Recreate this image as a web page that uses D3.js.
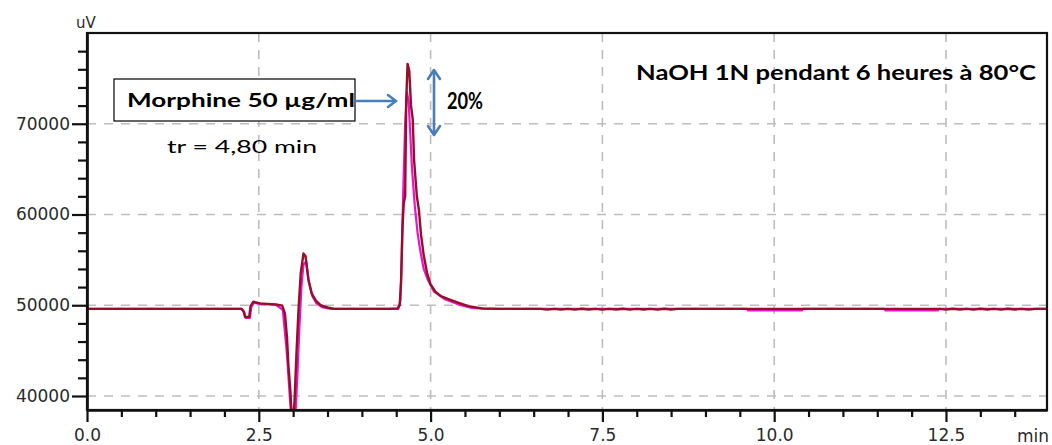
<!DOCTYPE html>
<html><head><meta charset="utf-8">
<script src="https://cdn.jsdelivr.net/npm/d3@7"></script>
<style>
html,body{margin:0;padding:0;background:#fff;overflow:hidden}
</style></head>
<body><svg id="chart" width="1052" height="445"></svg>
<script>
// ---- data (time in min, signal in uV) ----
const traceRedT = [0, 2.25, 2.28, 2.30, 2.36, 2.38, 2.42, 2.46, 2.52, 2.62, 2.75, 2.84, 2.88, 2.91, 2.93, 2.96, 2.99, 3.02, 3.05, 3.08, 3.11, 3.15, 3.18, 3.22, 3.27, 3.33, 3.40, 3.50, 3.60,
  4.40, 4.52, 4.55, 4.57, 4.59, 4.61, 4.63, 4.645, 4.665, 4.69, 4.715, 4.74, 4.76, 4.80, 4.83, 4.86, 4.90, 4.95, 5.00, 5.07, 5.15, 5.25, 5.40, 5.55, 5.75, 6.00,
  6.60, 6.70, 6.80, 6.90, 7.00, 7.10, 7.20, 7.30, 7.40, 7.50, 7.60, 7.70, 7.80, 7.90, 8.00, 8.10, 8.20, 8.30, 8.40, 8.50, 8.60, 8.70,
  9.60, 11.60, 12.40, 12.50, 12.60, 12.70, 12.80, 12.90, 13.00, 13.10, 13.20, 13.30, 13.40, 13.50, 13.60, 13.70, 13.80, 13.97];
const traceRedV = [49600, 49600, 49300, 48700, 48700, 49900, 50400, 50300, 50200, 50150, 50100, 49950, 49100, 46500, 43500, 40500, 36000, 39500, 45000, 49800, 53500, 55700, 55400, 52900, 51300, 50500, 50000, 49750, 49600,
  49600, 49650, 50000, 52500, 58500, 61300, 62000, 72500, 76600, 75800, 72000, 70500, 66000, 62000, 60500, 57800, 55500, 53500, 52300, 51500, 51000, 50700, 50300, 49900, 49650, 49600,
  49600, 49520, 49600, 49530, 49600, 49520, 49610, 49530, 49600, 49520, 49600, 49530, 49610, 49520, 49600, 49530, 49600, 49520, 49610, 49530, 49600, 49600,
  49600, 49600, 49600, 49520, 49610, 49530, 49600, 49520, 49610, 49530, 49600, 49520, 49610, 49530, 49600, 49520, 49600, 49600];
const traceMagT = [0, 2.25, 2.29, 2.31, 2.37, 2.39, 2.43, 2.52, 2.75, 2.85, 2.88, 2.90, 2.92, 2.95, 2.99, 3.03, 3.06, 3.09, 3.12, 3.15, 3.19, 3.23, 3.28, 3.34, 3.42, 3.55,
  4.45, 4.53, 4.56, 4.58, 4.60, 4.63, 4.655, 4.68, 4.70, 4.73, 4.77, 4.81, 4.85, 4.90, 4.96, 5.05, 5.20, 5.40, 5.60, 5.80,
  9.60, 9.62, 10.40, 10.42, 11.60, 11.62, 12.38, 12.40, 13.97];
const traceMagV = [49600, 49600, 49200, 48600, 48600, 49800, 50300, 50150, 50050, 49500, 47000, 45500, 43500, 40000, 36000, 37500, 42000, 47500, 52000, 54500, 54800, 52500, 51000, 50200, 49800, 49600,
  49600, 49600, 50500, 55000, 62000, 70000, 73500, 72500, 69500, 65000, 61000, 58000, 56000, 54000, 52800, 51500, 50700, 50100, 49700, 49600,
  49600, 49420, 49420, 49600, 49600, 49420, 49420, 49600, 49600];
const yMajorTicks = [40000, 50000, 60000, 70000];
const yMinorTicks = [42000, 44000, 46000, 48000, 52000, 54000, 56000, 58000, 62000, 64000, 66000, 68000, 72000, 74000, 76000, 78000];
const xMajorTicks = [0, 2.5, 5, 7.5, 10, 12.5];
const xMinorTicks = [0.5, 1, 1.5, 2, 3, 3.5, 4, 4.5, 5.5, 6, 6.5, 7, 8, 8.5, 9, 9.5, 10.5, 11, 11.5, 12, 13, 13.5];
const xDomain = [0, 13.97];
const yDomain = [38456, 80000];
const yUnit = "uV";
const xUnit = "min";
const boxLabel = "Morphine 50 µg/ml";
const trLabel = "tr = 4,80 min";
const pctLabel = "20%";
const condLabel = "NaOH 1N pendant 6 heures à 80°C";

// ---- layout ----
const svg = d3.select("#chart");
const L = 87, R = 1047, T = 33, B = 410;
const x = d3.scaleLinear().domain(xDomain).range([L, R]);
const y = d3.scaleLinear().domain(yDomain).range([B, T]);
const tickFont = "'DejaVu Sans', sans-serif";

svg.append("defs").append("clipPath").attr("id", "plotclip")
  .append("rect").attr("x", L).attr("y", T).attr("width", R - L).attr("height", B - T);

// grid
const grid = svg.append("g");
grid.selectAll("line.h").data(yMajorTicks).join("line")
  .attr("x1", L).attr("x2", R).attr("y1", d => y(d)).attr("y2", d => y(d))
  .attr("stroke", "#bdbdbd").attr("stroke-width", 1.6).attr("stroke-dasharray", "9,8");
grid.selectAll("line.v").data(xMajorTicks.filter(d => d > 0)).join("line")
  .attr("y1", T).attr("y2", B).attr("x1", d => x(d)).attr("x2", d => x(d))
  .attr("stroke", "#bdbdbd").attr("stroke-width", 1.6).attr("stroke-dasharray", "9,8");

// traces
const line = d3.line().x(d => x(d[0])).y(d => y(d[1]));
const plot = svg.append("g").attr("clip-path", "url(#plotclip)");
plot.append("path").datum(d3.zip(traceMagT, traceMagV)).attr("d", line)
  .attr("fill", "none").attr("stroke", "#ee12c8").attr("stroke-width", 2.2).attr("stroke-linejoin", "round");
plot.append("path").datum(d3.zip(traceRedT, traceRedV)).attr("d", line)
  .attr("fill", "none").attr("stroke", "#960f2a").attr("stroke-width", 2.4).attr("stroke-linejoin", "round");

// frame
svg.append("rect").attr("x", L).attr("y", T).attr("width", R - L).attr("height", B - T)
  .attr("fill", "none").attr("stroke", "#111").attr("stroke-width", 2.2);

// axes
function styleAxis(g) {
  g.select(".domain").attr("stroke", "#111").attr("stroke-width", 2.2);
  g.selectAll(".tick line").attr("stroke", "#111").attr("stroke-width", 2.2);
  g.selectAll("text").attr("font-family", tickFont).attr("font-size", 17).attr("fill", "#2a2a2a");
}
const yAx = svg.append("g").attr("transform", `translate(${L},0)`)
  .call(d3.axisLeft(y).tickValues(yMajorTicks).tickSize(15).tickSizeOuter(0).tickPadding(2).tickFormat(d3.format("d")));
styleAxis(yAx);
const yAxMin = svg.append("g").attr("transform", `translate(${L},0)`)
  .call(d3.axisLeft(y).tickValues(yMinorTicks).tickSize(9).tickSizeOuter(0).tickFormat(""));
styleAxis(yAxMin);
const xAx = svg.append("g").attr("transform", `translate(0,${B})`)
  .call(d3.axisBottom(x).tickValues(xMajorTicks).tickSize(12).tickSizeOuter(0).tickPadding(7).tickFormat(d3.format(".1f")));
styleAxis(xAx);
const xAxMin = svg.append("g").attr("transform", `translate(0,${B})`)
  .call(d3.axisBottom(x).tickValues(xMinorTicks).tickSize(7).tickSizeOuter(0).tickFormat(""));
styleAxis(xAxMin);

svg.append("text").attr("x", 86).attr("y", 28).attr("text-anchor", "middle")
  .attr("font-family", tickFont).attr("font-size", 15).attr("fill", "#2a2a2a").text(yUnit);
svg.append("text").attr("x", 1033).attr("y", 442).attr("text-anchor", "middle")
  .attr("font-family", tickFont).attr("font-size", 17).attr("fill", "#2a2a2a").text(xUnit);

// annotations
const annFont = "Lato, 'Open Sans', sans-serif";
svg.append("rect").attr("x", 114).attr("y", 79).attr("width", 241).attr("height", 42)
  .attr("fill", "#fff").attr("stroke", "#000").attr("stroke-width", 1.2);
svg.append("text").attr("x", 127).attr("y", 107).attr("font-family", annFont).attr("font-weight", "bold")
  .attr("font-size", 18).attr("textLength", 228).attr("lengthAdjust", "spacingAndGlyphs").text(boxLabel);
svg.append("text").attr("x", 167).attr("y", 153).attr("font-family", annFont)
  .attr("font-size", 18).attr("textLength", 150).attr("lengthAdjust", "spacingAndGlyphs").text(trLabel);
svg.append("text").attr("x", 447).attr("y", 109).attr("font-family", annFont).attr("font-weight", "bold")
  .attr("font-size", 22).attr("textLength", 36).attr("lengthAdjust", "spacingAndGlyphs").text(pctLabel);
svg.append("text").attr("x", 636).attr("y", 80).attr("font-family", annFont).attr("font-weight", "bold")
  .attr("font-size", 21).attr("textLength", 400).attr("lengthAdjust", "spacingAndGlyphs").text(condLabel);

// arrows
const blue = "#4a7ebb";
const arrows = svg.append("g").attr("stroke", blue).attr("stroke-width", 2.6).attr("fill", "none")
  .attr("stroke-linecap", "round").attr("stroke-linejoin", "round");
arrows.append("line").attr("x1", 356).attr("y1", 101).attr("x2", 396).attr("y2", 101);
arrows.append("path").attr("d", "M388,95 L396,101 L388,107");
arrows.append("line").attr("x1", 434).attr("y1", 71).attr("x2", 434).attr("y2", 134);
arrows.append("path").attr("d", "M428,79 L434,70 L440,79");
arrows.append("path").attr("d", "M428,126 L434,135 L440,126");
</script></body></html>
